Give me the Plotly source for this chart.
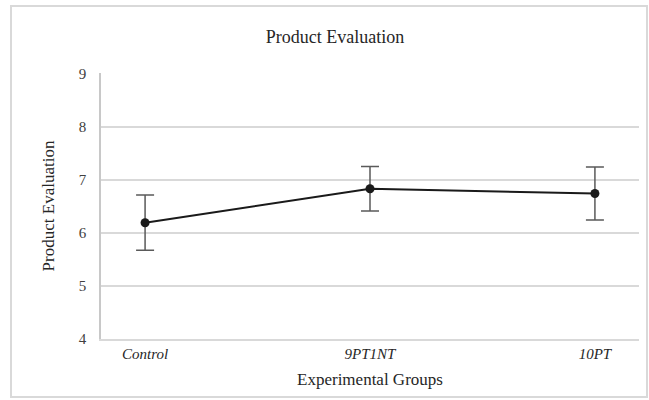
import plotly.graph_objects as go

categories = ["Control", "9PT1NT", "10PT"]
means = [6.19, 6.83, 6.74]
errors = [0.52, 0.42, 0.50]
y_ticks = [4, 5, 6, 7, 8, 9]

W, H = 649, 400
L, R, T, B = 101, 10, 73, 61
pw, ph = W - L - R, H - T - B
SERIF = "Liberation Serif, DejaVu Serif, serif"

fig = go.Figure()
fig.add_trace(go.Scatter(
    x=list(range(len(categories))), y=means,
    mode="lines+markers",
    line=dict(color="#1a1a1a", width=2),
    marker=dict(color="#1a1a1a", size=9),
    error_y=dict(type="data", array=errors, visible=True,
                 color="#5a5a5a", thickness=1.5, width=9),
    showlegend=False,
))

def px_x(v):
    return (v - L) / pw

def px_y(v):
    return (H - B - v) / ph

fig.add_shape(type="rect", xref="paper", yref="paper",
              x0=px_x(11), x1=px_x(647), y0=px_y(397), y1=px_y(6),
              line=dict(color="#d9d9d9", width=2), fillcolor="rgba(0,0,0,0)",
              layer="below")

fig.update_layout(
    width=W, height=H,
    margin=dict(l=L, r=R, t=T, b=B, autoexpand=False),
    paper_bgcolor="white", plot_bgcolor="white",
    font=dict(family=SERIF, color="#333333"),
    title=dict(text="Product Evaluation", x=(335) / W, xanchor="center",
               y=1 - 37 / H, yanchor="middle",
               font=dict(family=SERIF, size=18, color="#262626")),
    xaxis=dict(
        range=[-0.196, 2.196], automargin=False,
        tickmode="array", tickvals=list(range(len(categories))),
        ticktext=["<i>%s</i>" % c for c in categories],
        showgrid=False, zeroline=False, showline=True,
        linecolor="#d9d9d9", linewidth=1.5, ticks="",
        tickfont=dict(family=SERIF, size=15, color="#262626"),
        title=dict(text="Experimental Groups", standoff=12,
                   font=dict(family=SERIF, size=17, color="#262626")),
    ),
    yaxis=dict(
        range=[4, 9.01], tickmode="array", tickvals=y_ticks, automargin=False,
        showgrid=True, gridcolor="#d9d9d9", gridwidth=1.5,
        zeroline=False, showline=True, linecolor="#c8c8c8", linewidth=1.5,
        ticks="", ticklabelstandoff=10,
        tickfont=dict(family=SERIF, size=15, color="#404040"),
        title=dict(text="Product Evaluation", standoff=20,
                   font=dict(family=SERIF, size=17, color="#262626")),
    ),
)

fig.write_html("out.html", config={"displayModeBar": False},
               post_script="document.body.style.margin='0';document.body.style.overflow='hidden';")
